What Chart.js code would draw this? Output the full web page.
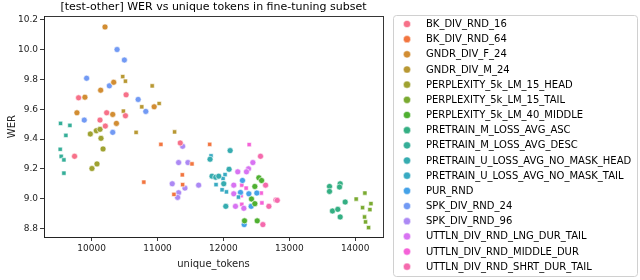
<!DOCTYPE html>
<html>
<head>
<meta charset="utf-8">
<script src="https://cdn.jsdelivr.net/npm/chart.js@4/dist/chart.umd.min.js"></script>
<style>
  html, body { margin: 0; padding: 0; background: #fff; }
  #wrap { width: 640px; height: 280px; }
</style>
</head>
<body>
<div id="wrap"><canvas id="werChart" width="640" height="280"></canvas></div>
<script>
// series (legend order)
var seriesNames = [
  "BK_DIV_RND_16", "BK_DIV_RND_64", "GNDR_DIV_F_24", "GNDR_DIV_M_24",
  "PERPLEXITY_5k_LM_15_HEAD", "PERPLEXITY_5k_LM_15_TAIL", "PERPLEXITY_5k_LM_40_MIDDLE",
  "PRETRAIN_M_LOSS_AVG_ASC", "PRETRAIN_M_LOSS_AVG_DESC",
  "PRETRAIN_U_LOSS_AVG_NO_MASK_HEAD", "PRETRAIN_U_LOSS_AVG_NO_MASK_TAIL",
  "PUR_RND", "SPK_DIV_RND_24", "SPK_DIV_RND_96",
  "UTTLN_DIV_RND_LNG_DUR_TAIL", "UTTLN_DIV_RND_MIDDLE_DUR", "UTTLN_DIV_RND_SHRT_DUR_TAIL"
];

// unique_tokens per series
var tokens = [
  [9802, 10127, 10228, 10208, 10513, 10523, 9741, 11345],
  [10792, 11051, 11792, 11376, 11381, 11249, 11523],
  [10203, 10335, 10137, 9898, 9777, 10320, 10376, 10949],
  [10472, 10513, 10919, 10761, 11025, 10482, 10675, 11259],
  [9980, 10071, 10127, 10142, 10173, 10081, 10005],
  [14015, 14147, 14239, 14112, 14223, 14142, 14157, 14203],
  [12538, 12579, 12477, 12426, 12477, 12513, 12320],
  [13610, 13610, 13772, 13762, 13848, 13655, 13736, 13772],
  [9528, 9670, 9609, 9523, 9538, 9579, 9579],
  [12102, 11797, 11827, 11883, 11929, 12086, 12005, 12036],
  [11812, 11995, 12025, 11888, 11980, 12046, 12228],
  [12289, 12259, 12386, 12421, 12315, 12507],
  [10386, 10497, 9924, 10269, 10706, 10822, 9888, 10320],
  [11381, 11320, 11462, 11223, 11416, 11624, 11320, 11305],
  [12447, 12381, 12218, 12350, 12157, 12157, 12183, 12310],
  [12391, 12279, 12269, 12279, 12345, 12574, 12584],
  [12563, 12640, 12690, 12797, 12817, 12599]
];

// WER per series
var wer = [
  [9.676, 9.527, 9.576, 9.487, 9.556, 9.696, 9.285, 9.374],
  [9.112, 9.365, 9.365, 9.161, 9.095, 9.030, 9.234],
  [10.15, 9.78, 9.727, 9.68, 9.576, 9.565, 9.505, 9.616],
  [9.818, 9.787, 9.756, 9.616, 9.638, 9.587, 9.445, 9.448],
  [9.434, 9.456, 9.465, 9.405, 9.334, 9.234, 9.203],
  [8.999, 9.039, 8.968, 8.941, 8.928, 8.879, 8.846, 8.808],
  [9.141, 9.123, 9.083, 8.999, 8.968, 8.853, 8.853],
  [9.083, 9.050, 9.101, 9.079, 8.979, 8.919, 8.930, 8.879],
  [9.505, 9.492, 9.425, 9.332, 9.285, 9.261, 9.172],
  [9.323, 9.265, 9.152, 9.145, 9.152, 9.198, 9.101, 8.950],
  [9.288, 9.137, 9.163, 9.095, 9.061, 9.047, 9.012],
  [9.123, 9.043, 9.034, 8.950, 8.828, 9.039],
  [9.999, 9.929, 9.807, 9.756, 9.665, 9.585, 9.527, 9.445],
  [9.352, 9.243, 9.243, 9.101, 9.072, 9.092, 9.041, 9.010],
  [9.243, 9.201, 9.181, 9.181, 9.092, 9.034, 8.950, 8.937],
  [9.363, 9.092, 9.021, 8.964, 9.072, 9.039, 8.973],
  [9.285, 9.092, 8.950, 8.992, 8.990, 8.828]
];

var xTicks = [10000, 11000, 12000, 13000, 14000];
var yTicks = [8.8, 9.0, 9.2, 9.4, 9.6, 9.8, 10.0, 10.2];

// husl-like palette
var palette = [
  "#f77189", "#f2753f", "#d28d32", "#b89833", "#9fa231", "#7aaa31", "#4fb031",
  "#34af83", "#35ae98", "#36acb0", "#38aac2", "#45a2e8", "#729af4", "#ac89f4",
  "#d873f2", "#f562d8", "#f56aad"
];
var shapes = ["circle", "rect", "circle", "rect", "circle", "rect", "circle", "circle", "rect",
  "circle", "rect", "circle", "circle", "circle", "circle", "rect", "circle"];

var FONT = "DejaVu Sans";

var datasets = seriesNames.map(function (name, i) {
  return {
    label: name,
    data: tokens[i].map(function (t, j) { return { x: t, y: wer[i][j] }; }),
    backgroundColor: palette[i],
    borderColor: "#ffffff",
    borderWidth: 0.6,
    pointRadius: 3,
    pointStyle: shapes[i]
  };
});

// box around the axes
var frame = {
  id: "frame",
  afterDatasetsDraw: function (chart) {
    var a = chart.chartArea, ctx = chart.ctx;
    ctx.save();
    ctx.strokeStyle = "#222";
    ctx.lineWidth = 0.9;
    ctx.strokeRect(Math.round(a.left) + 0.5, Math.round(a.top) + 0.5,
      Math.round(a.right - a.left), Math.round(a.bottom - a.top));
    ctx.restore();
  }
};

// legend drawn like matplotlib's, from the datasets
var boxLegend = {
  id: "boxLegend",
  afterDraw: function (chart) {
    var ctx = chart.ctx;
    ctx.save();
    ctx.beginPath();
    ctx.roundRect(393.5, 15.5, 244, 261, 3);
    ctx.fillStyle = "rgba(255,255,255,0.8)";
    ctx.fill();
    ctx.strokeStyle = "#d0d0d0";
    ctx.lineWidth = 1;
    ctx.stroke();
    ctx.font = "10px '" + FONT + "'";
    ctx.textBaseline = "middle";
    chart.data.datasets.forEach(function (ds, i) {
      var y = 24 + i * 15.17;
      ctx.beginPath();
      ctx.arc(407, y, 3.6, 0, Math.PI * 2);
      ctx.fillStyle = ds.backgroundColor;
      ctx.fill();
      ctx.strokeStyle = "rgba(255,255,255,0.8)";
      ctx.lineWidth = 0.6;
      ctx.stroke();
      ctx.fillStyle = "#000";
      ctx.fillText(ds.label, 426, y + 0.5);
    });
    ctx.restore();
  }
};

new Chart(document.getElementById("werChart"), {
  type: "scatter",
  data: { datasets: datasets },
  plugins: [frame, boxLegend],
  options: {
    responsive: false,
    animation: false,
    devicePixelRatio: 1,
    layout: { padding: { left: 6, right: 257, top: 0, bottom: 10 } },
    plugins: {
      legend: { display: false },
      tooltip: { enabled: false },
      title: {
        display: true,
        fullSize: false,
        text: "[test-other] WER vs unique tokens in fine-tuning subset",
        color: "#000",
        font: { family: FONT, size: 11, weight: "normal" },
        padding: { top: 1, bottom: 2 }
      }
    },
    scales: {
      x: {
        type: "linear",
        min: 9277,
        max: 14422,
        afterBuildTicks: function (s) { s.ticks = xTicks.map(function (v) { return { value: v }; }); },
        afterFit: function (s) { s.height = 33; },
        grid: { display: true, drawOnChartArea: false, drawTicks: true, tickLength: 4, color: "#222", lineWidth: 0.9 },
        border: { display: true, color: "#222", width: 0.9 },
        ticks: { color: "#222", font: { family: FONT, size: 9 }, padding: 2, maxRotation: 0,
          callback: function (v) { return String(v); } },
        title: { display: true, text: "unique_tokens", color: "#222", font: { family: FONT, size: 10 }, padding: { top: 1, bottom: 0 } }
      },
      y: {
        type: "linear",
        min: 8.745,
        max: 10.222,
        afterBuildTicks: function (s) { s.ticks = yTicks.map(function (v) { return { value: v }; }); },
        afterFit: function (s) { s.width = 38; },
        grid: { display: true, drawOnChartArea: false, drawTicks: true, tickLength: 4, color: "#222", lineWidth: 0.9 },
        border: { display: true, color: "#222", width: 0.9 },
        ticks: { color: "#222", font: { family: FONT, size: 9 }, padding: 2,
          callback: function (v) { return Number(v).toFixed(1); } },
        title: { display: true, text: "WER", color: "#222", font: { family: FONT, size: 10 }, padding: { top: 0, bottom: 2 } }
      }
    }
  }
});
</script>
</body>
</html>
